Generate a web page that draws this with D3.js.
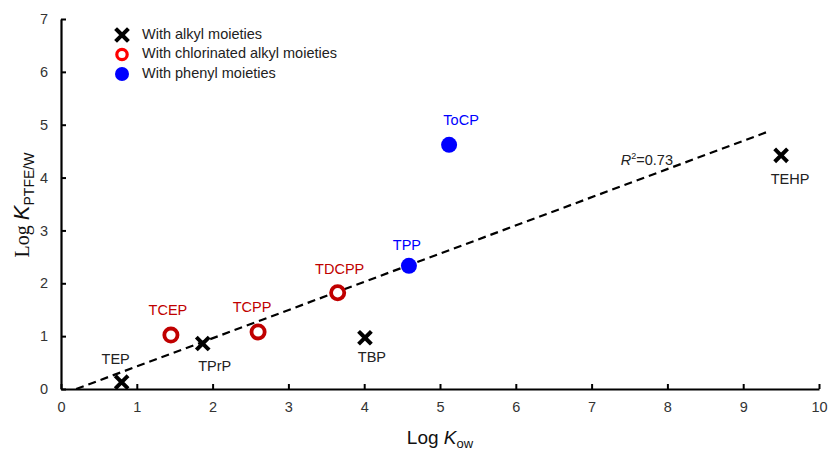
<!DOCTYPE html>
<html><head><meta charset="utf-8">
<script src="https://cdn.jsdelivr.net/npm/d3@7"></script>
<style>body{margin:0;background:#fff}</style>
</head><body>
<svg id="c" width="828" height="450"></svg>
<script>
const compounds = ["TEP","TCEP","TPrP","TCPP","TDCPP","TBP","TPP","ToCP","TEHP"];
const groups = ["alkyl","chlor","alkyl","chlor","chlor","alkyl","phenyl","phenyl","alkyl"];
const logKow = [0.80,1.45,1.87,2.60,3.65,4.01,4.59,5.12,9.50];
const logKptfe = [0.13,1.02,0.86,1.08,1.82,0.97,2.33,4.62,4.42];
const fitX = [0.2, 9.31];
const fitY = [0.0, 4.86];
const xTicks = [0,1,2,3,4,5,6,7,8,9,10];
const yTicks = [0,1,2,3,4,5,6,7];
const legendLabels = ["With alkyl moieties","With chlorinated alkyl moieties","With phenyl moieties"];
const legendGroups = ["alkyl","chlor","phenyl"];
// label offsets (px) relative to the marker
const labelDx = [-6,-3,12,-6,2,7,-2,12,9];
const labelDy = [-22,-24,24,-24,-23,20,-20,-24,25];

const svg = d3.select("#c");
const x = d3.scaleLinear().domain([0,10]).range([61,819]);
const y = d3.scaleLinear().domain([0,7]).range([389,19]);
const font = "Arial, 'Liberation Sans', sans-serif";

const xa = svg.append("g").attr("transform","translate(0,389)")
  .call(d3.axisBottom(x).tickValues(xTicks).tickFormat(d3.format("d")).tickSizeInner(-5).tickSizeOuter(0).tickPadding(13));
const ya = svg.append("g").attr("transform","translate(61,0)")
  .call(d3.axisLeft(y).tickValues(yTicks).tickFormat(d3.format("d")).tickSizeInner(-5).tickSizeOuter(0).tickPadding(13));
[xa,ya].forEach(a=>{
  a.select(".domain").attr("stroke","#000").attr("stroke-width",2.2);
  a.selectAll(".tick line").attr("stroke","#000").attr("stroke-width",2);
  a.selectAll(".tick text").attr("font-family",font).attr("font-size",14.5).attr("fill","#333");
});

// fit line
svg.append("line")
  .attr("x1",x(fitX[0])).attr("y1",y(fitY[0])).attr("x2",x(fitX[1])).attr("y2",y(fitY[1]))
  .attr("stroke","#000").attr("stroke-width",2.2).attr("stroke-dasharray","8,5");

const color = {alkyl:"#000", chlor:"#c00000", phenyl:"#0000ff"};
function drawMarker(g, grp, cx, cy, legend){
  if(grp==="alkyl"){
    const s=5;
    g.append("path").attr("d",`M${cx-s},${cy-s}L${cx+s},${cy+s}M${cx+s},${cy-s}L${cx-s},${cy+s}`)
      .attr("stroke","#000").attr("stroke-width",4).attr("stroke-linecap","square");
  } else if(grp==="chlor"){
    g.append("circle").attr("cx",cx).attr("cy",cy).attr("r",legend?5.2:6.6)
      .attr("fill","#fff").attr("stroke",legend?"#ff0000":"#c00000").attr("stroke-width",legend?3.2:3.8);
  } else {
    g.append("circle").attr("cx",cx).attr("cy",cy).attr("r",legend?7:8).attr("fill","#0000ff");
  }
}

const pts = svg.append("g");
compounds.forEach((c,i)=>{
  drawMarker(pts, groups[i], x(logKow[i]), y(logKptfe[i]), false);
  pts.append("text").attr("x",x(logKow[i])+labelDx[i]).attr("y",y(logKptfe[i])+labelDy[i])
    .attr("text-anchor","middle").attr("dominant-baseline","middle")
    .attr("font-family",font).attr("font-size",14.5)
    .attr("fill", groups[i]==="alkyl" ? "#222" : (groups[i]==="chlor" ? "#c00000" : "#0000ff"))
    .text(c);
});

// R² label
const rt = svg.append("text").attr("x",673).attr("y",165).attr("text-anchor","end")
  .attr("font-family",font).attr("font-size",14.5).attr("fill","#222");
rt.append("tspan").attr("font-style","italic").text("R");
rt.append("tspan").attr("font-size",9).attr("dy",-6).text("2");
rt.append("tspan").attr("dy",6).text("=0.73");

// legend
const lg = svg.append("g");
legendLabels.forEach((l,i)=>{
  const cy = 35 + i*19.5;
  drawMarker(lg, legendGroups[i], 122, cy, true);
  lg.append("text").attr("x",142).attr("y",cy).attr("dominant-baseline","middle")
    .attr("font-family",font).attr("font-size",14.5).attr("fill","#222").text(l);
});

// axis titles
const xt = svg.append("text").attr("x",440).attr("y",444).attr("text-anchor","middle")
  .attr("font-family",font).attr("font-size",19).attr("fill","#111");
xt.append("tspan").text("Log ");
xt.append("tspan").attr("font-style","italic").text("K");
xt.append("tspan").attr("font-size",13).attr("dy",4).text("ow");

const yt = svg.append("text").attr("transform","translate(29,205) rotate(-90)").attr("text-anchor","middle")
  .attr("font-family","'Liberation Serif','Times New Roman',serif").attr("font-size",20).attr("fill","#111");
yt.append("tspan").text("Log ");
yt.append("tspan").attr("font-style","italic").attr("font-family",font).attr("font-size",22).text("K");
yt.append("tspan").attr("font-family",font).attr("font-size",14).attr("dy",5).text("PTFE/W");
</script>
</body></html>
